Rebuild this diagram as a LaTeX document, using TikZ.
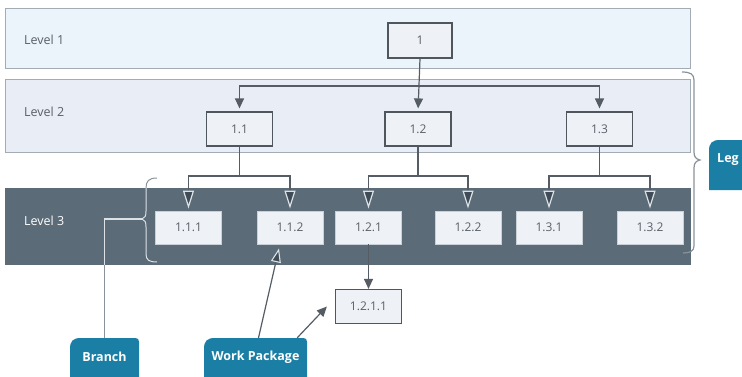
\documentclass[tikz,border=0pt]{standalone}
\usepackage{fontspec}
\setmainfont{Open Sans}
\usetikzlibrary{arrows.meta,calc}

\definecolor{bandA}{HTML}{EBF4FA}
\definecolor{bandB}{HTML}{E9EDF5}
\definecolor{bandC}{HTML}{5B6B78}
\definecolor{tipfill}{HTML}{3F4C57}
\definecolor{bandline}{HTML}{A3ACB4}
\definecolor{boxfill}{HTML}{EEF1F6}
\definecolor{boxline}{HTML}{4F565D}
\definecolor{lowline}{HTML}{C9D0D6}
\definecolor{txt}{HTML}{5A6068}
\definecolor{wire}{HTML}{555C63}
\definecolor{tealbox}{HTML}{1B7FA5}
\definecolor{bracegray}{HTML}{8A9299}
\definecolor{paleline}{HTML}{DDE2E7}

\tikzset{
  band/.style={draw=bandline, line width=0.9pt, minimum width=685pt, inner sep=0pt},
  levellabel/.style={anchor=west, inner sep=0pt, text=txt, font=\fontsize{12.5}{14}\selectfont},
  wbsbox/.style={draw=boxline, fill=boxfill, line width=1.2pt, minimum width=66pt,
    minimum height=34pt, inner sep=0pt, text=txt, font=\fontsize{12}{14}\selectfont},
  lowbox/.style={wbsbox, draw=lowline, line width=0.8pt, minimum height=33pt},
  solidarrow/.style={draw=wire, line width=1.2pt,
    -{Triangle[length=10pt,width=9pt]}, shorten >=3pt},
  openarrow/.style={draw=wire, line width=1.2pt,
    -{Triangle[length=18pt,width=11pt,fill=tipfill,color=paleline,line width=1.2pt]},
    shorten >=2pt},
  callout/.style={text=white, font=\bfseries\fontsize{12.5}{14}\selectfont,
    minimum width=69pt, minimum height=38pt, inner sep=0pt},
}

\begin{document}
\begin{tikzpicture}[x=1pt, y=-1pt]
\useasboundingbox (0,0) rectangle (742,376);

% level bands
\node[band, fill=bandA, minimum height=60pt] (bandone) at (347.5,38) {};
\node[band, fill=bandB, minimum height=73pt] (bandtwo) at (347.5,115.5) {};
\node[band, fill=bandC, draw=bandC, minimum height=76pt] (bandthree) at (347.5,226) {};

\node[levellabel] (lvone) at (24,40) {Level 1};
\node[levellabel] (lvtwo) at (24,112) {Level 2};
\node[levellabel, text=white] (lvthree) at (24,221) {Level 3};

% rows of the breakdown
\coordinate (toprow) at (0,86);
\coordinate (forkrow) at (0,176);

\node[wbsbox, minimum width=64pt, minimum height=35pt] (n1) at (420,40.5) {1};

\node[wbsbox] (n11) at (239.5,129) {1.1};
\node[wbsbox] (n12) at (418,129) {1.2};
\node[wbsbox] (n13) at (599.5,129) {1.3};

\node[lowbox] (n111) at (188.5,227.5) {1.1.1};
\node[lowbox] (n112) at (290,227.5) {1.1.2};
\node[lowbox] (n121) at (368.5,227.5) {1.2.1};
\node[lowbox] (n122) at (468,227.5) {1.2.2};
\node[lowbox] (n131) at (549,227.5) {1.3.1};
\node[lowbox] (n132) at (650,227.5) {1.3.2};

\node[wbsbox] (n1211) at (368.5,306.5) {1.2.1.1};

% level 1 to level 2
\draw[solidarrow] (n1.south) -- (n12.north);
\draw[solidarrow] (n1.south |- toprow) -| (n11.north);
\draw[solidarrow] (n1.south |- toprow) -| (n13.north);

% level 2 to level 3
\draw[openarrow] (n11.south) -- (n11.south |- forkrow) -| (n111.north);
\draw[openarrow] (n11.south) -- (n11.south |- forkrow) -| (n112.north);
\draw[openarrow] (n12.south) -- (n12.south |- forkrow) -| (n121.north);
\draw[openarrow] (n12.south) -- (n12.south |- forkrow) -| (n122.north);
\draw[openarrow] (n13.south) -- (n13.south |- forkrow) -| (n131.north);
\draw[openarrow] (n13.south) -- (n13.south |- forkrow) -| (n132.north);

% level 3 to work package
\draw[solidarrow, shorten >=0pt] (n121.south) -- (n1211.north);

% brace round the level 3 row
\coordinate (bracetip) at (142,219);
\def\leftbrace{(157,178) .. controls (149,178) and (146,181) .. (146,188) -- (146,211)
  .. controls (146,216) and (145,218) .. (142,219) .. controls (145,220) and (146,222) .. (146,227)
  -- (146,254) .. controls (146,260) and (149,262) .. (157,262)}
% leader from the Branch callout to the brace
\node[callout] (branch) at (104.5,357) {};
\def\branchleader{(branch.north) -- (branch.north |- bracetip) -- (bracetip)}
\begin{scope}
  \clip (0,0) rectangle (742,188) (0,264) rectangle (742,376);
  \draw[bracegray, line width=1pt] \leftbrace;
  \draw[bracegray, line width=1.2pt] \branchleader;
\end{scope}
\begin{scope}
  \clip (0,188) rectangle (742,264);
  \draw[paleline, line width=1pt] \leftbrace;
  \draw[paleline, line width=1.2pt] \branchleader;
\end{scope}

% brace round levels 2 and 3
\draw[bracegray, line width=1.2pt] (682,72) .. controls (690,72) and (694,74) .. (694,80) -- (694,152)
  .. controls (694,157) and (696,159) .. (700,160) .. controls (696,161) and (694,163) .. (694,168)
  -- (694,246) .. controls (694,251) and (690,253) .. (683,253);

% callouts
\fill[tealbox] (70,380) -- (70,349) .. controls (70,341) and (73,338) .. (81,338) -- (135,338)
  .. controls (138,338) and (139,339) .. (139,342) -- (139,380) -- cycle;
\node[callout] (branchtext) at (branch) {Branch};

\fill[tealbox] (204,380) -- (204,349) .. controls (204,341) and (207,338) .. (215,338) -- (303,338)
  .. controls (306,338) and (307,339) .. (307,342) -- (307,380) -- cycle;
\node[callout, minimum width=103pt] (wp) at (255.5,357) {Work Package};

\fill[tealbox] (709,190) -- (709,151) .. controls (709,143) and (712,140) .. (720,140) -- (750,140)
  -- (750,190) -- cycle;
\node[text=white, font=\bfseries\fontsize{12.5}{14}\selectfont, anchor=west, inner sep=0pt] (legend) at (717,160) {Leg};

% leaders from the Work Package callout
\coordinate (wpstart) at ([xshift=3pt]wp.north);
\coordinate (wpend) at ([xshift=-11pt,yshift=-4pt]n112.south);
\draw[wire, line width=1.2pt,
  -{Triangle[length=14pt,width=10pt,fill=tipfill,color=paleline,line width=1.1pt]}]
  (wpstart) -- (wpend);

\coordinate (wptwo) at ([xshift=-10pt]wp.north east);
\coordinate (wptip) at ([xshift=-8pt]n1211.west);
\draw[wire, line width=1.2pt, -{Triangle[length=10pt,width=9pt]}] (wptwo) -- (wptip);
\end{tikzpicture}
\end{document}
